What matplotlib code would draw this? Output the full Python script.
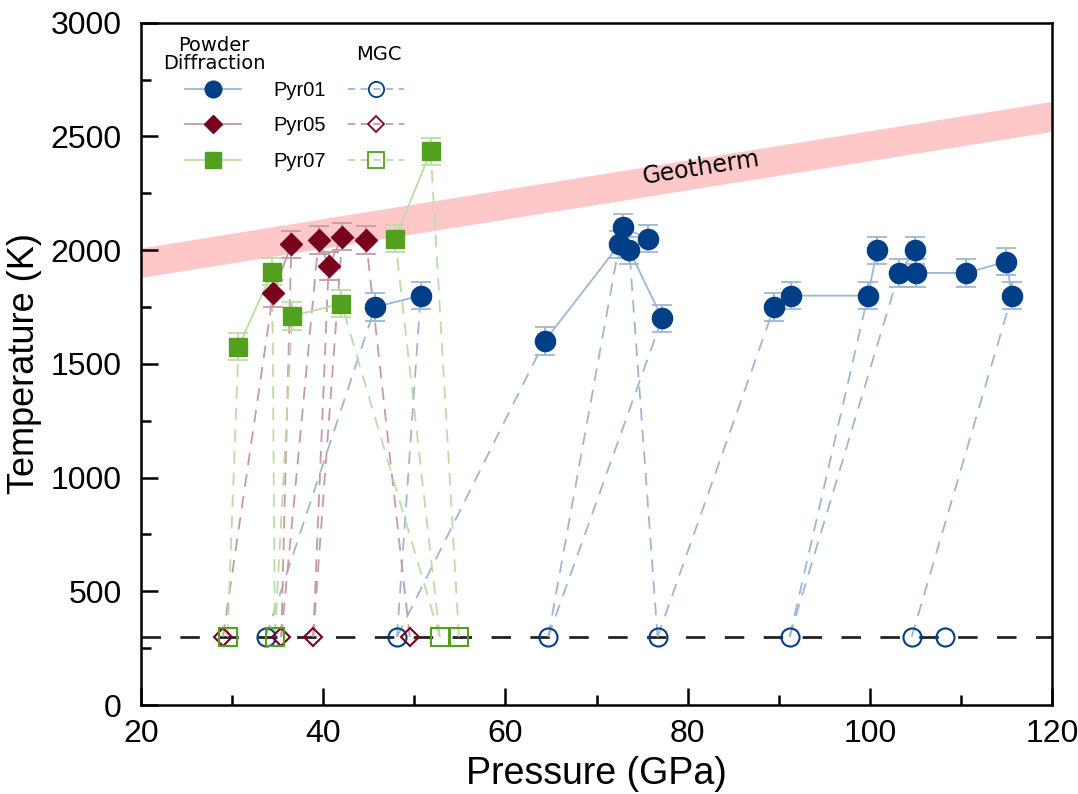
import matplotlib
matplotlib.use("Agg")
import matplotlib.pyplot as plt
from matplotlib.lines import Line2D
from matplotlib.ticker import MultipleLocator

# heated points (powder diffraction), pressure in GPa, temperature in K
P01 = [45.7, 50.7, 64.3, 72.5, 72.9, 75.7, 73.6, 77.2, 89.5, 91.4, 99.8, 100.8,
       103.2, 105.0, 105.1, 110.6, 115.0, 115.6]
T01 = [1750, 1800, 1600, 2025, 2100, 2050, 2000, 1700, 1750, 1800, 1800, 2000,
       1900, 2000, 1900, 1900, 1950, 1800]
E01 = [60] * len(P01)
seg01 = [0, 0, 1, 1, 1, 1, 1, 1, 2, 2, 2, 2, 3, 3, 3, 3, 3, 3]

P05 = [34.5, 36.5, 39.5, 40.6, 42.1, 44.7]
T05 = [1810, 2025, 2045, 1930, 2060, 2045]
E05 = [60] * len(P05)
seg05 = [0, 0, 1, 1, 1, 1]

P07 = [30.7, 34.4, 36.6, 42.0, 47.9, 51.8]
T07 = [1575, 1905, 1710, 1765, 2050, 2435]
E07 = [60] * len(P07)
seg07 = [0, 0, 1, 1, 2, 2]

# MGC (room temperature) pressures
T_room = 300
mgc01 = [33.7, 48.1, 64.7, 76.7, 91.2, 104.6, 108.3]
mgc05 = [29.0, 35.4, 38.9, 49.5]
mgc07 = [29.5, 34.7, 52.8, 54.9]

# dashed links: (mgc index, heated index)
links01 = [(0, 0), (1, 1), (1, 2), (2, 3), (2, 7), (3, 6), (3, 8), (4, 10), (4, 12), (5, 17)]
links05 = [(0, 0), (1, 1), (1, 2), (2, 4), (2, 3), (3, 5)]
links07 = [(0, 0), (1, 1), (1, 2), (2, 3), (2, 4), (3, 5)]

# geotherm band
geo_P = [20, 120]
geo_low = [1880, 2522]
geo_high = [2010, 2654]

blue = "#003f87"
red = "#7a0020"
green = "#52a01e"
blue_l = "#9fb6d3"
red_l = "#c79aa3"
green_l = "#bcdca6"

plt.rcParams["font.family"] = ["Liberation Sans", "DejaVu Sans"]

fig = plt.figure(figsize=(10.78, 7.94), dpi=100)
ax = fig.add_axes([0.1308, 0.112, 0.8451, 0.8594])

ax.fill_between(geo_P, geo_low, geo_high, color="#ffc8c8", lw=0, zorder=0)
ax.text(81.5, 2362, "Geotherm", rotation=9, ha="center", va="center",
        fontsize=17, family="DejaVu Sans", zorder=1)

ax.axhline(T_room, color="#222222", lw=2, dashes=(7, 7), zorder=1)

series = [
    (P01, T01, E01, seg01, mgc01, links01, blue, blue_l, "o", 14.5, 13),
    (P05, T05, E05, seg05, mgc05, links05, red, red_l, "D", 11, 9.5),
    (P07, T07, E07, seg07, mgc07, links07, green, green_l, "s", 13.5, 12.5),
]

for P, T, E, seg, mgc, links, col, col_l, mk, ms, ms_open in series:
    # dashed lines from MGC to heated point
    for i, j in links:
        ax.plot([mgc[i], P[j]], [T_room, T[j]], color=col_l, lw=1.3,
                dashes=(7, 5), zorder=2)
    # solid lines between heated points
    for s in sorted(set(seg)):
        xs = [P[k] for k in range(len(P)) if seg[k] == s]
        ys = [T[k] for k in range(len(P)) if seg[k] == s]
        ax.plot(xs, ys, color=col_l, lw=1.3, zorder=2)
    ax.errorbar(P, T, yerr=E, fmt="none", ecolor=col_l, elinewidth=1.3,
                capsize=7, capthick=1.3, zorder=3)
    ax.plot(P, T, ls="none", marker=mk, ms=ms, color=col, mec=col, zorder=4)
    ax.plot(mgc, [T_room] * len(mgc), ls="none", marker=mk, ms=ms_open,
            mfc="none", mec=col, mew=1.5, zorder=4)

ax.set_xlim(20, 120)
ax.set_ylim(0, 3000)
ax.xaxis.set_major_locator(MultipleLocator(20))
ax.xaxis.set_minor_locator(MultipleLocator(10))
ax.yaxis.set_major_locator(MultipleLocator(500))
ax.yaxis.set_minor_locator(MultipleLocator(250))
ax.tick_params(which="both", direction="in", top=False, right=False,
               width=1.8, labelsize=23)
ax.tick_params(which="major", length=12)
ax.tick_params(which="minor", length=7)
ax.tick_params(axis="y", pad=14)
ax.tick_params(axis="x", pad=10)
for sp in ax.spines.values():
    sp.set_linewidth(1.8)

ax.set_xlabel("Pressure (GPa)", fontsize=27, labelpad=5)
ax.set_ylabel("Temperature (K)", fontsize=26, labelpad=6)

# legend
handles = [
    Line2D([], [], color=blue_l, lw=1.3, marker="o", ms=12, mfc=blue, mec=blue),
    Line2D([], [], color=red_l, lw=1.3, marker="D", ms=9, mfc=red, mec=red),
    Line2D([], [], color=green_l, lw=1.3, marker="s", ms=12, mfc=green, mec=green),
    Line2D([], [], color=blue_l, lw=1.3, dashes=(4, 3), marker="o", ms=11,
           mfc="none", mec=blue, mew=1.3),
    Line2D([], [], color=red_l, lw=1.3, dashes=(4, 3), marker="D", ms=8,
           mfc="none", mec=red, mew=1.3),
    Line2D([], [], color=green_l, lw=1.3, dashes=(4, 3), marker="s", ms=11,
           mfc="none", mec=green, mew=1.3),
]
labels = ["Pyr01", "Pyr05", "Pyr07", "", "", ""]
ax.legend(handles, labels, ncol=2, loc="upper left", bbox_to_anchor=(0.048, 0.915),
          frameon=False, fontsize=14.5, handlelength=2.8, handletextpad=1.6,
          columnspacing=1.1, labelspacing=0.82, borderpad=0, borderaxespad=0)
ax.text(0.080, 0.953, "Powder\nDiffraction", transform=ax.transAxes, ha="center",
        va="center", fontsize=14, family="DejaVu Sans", linespacing=0.95)
ax.text(0.2616, 0.9537, "MGC", transform=ax.transAxes, ha="center",
        va="center", fontsize=14, family="DejaVu Sans")

fig.savefig("out.png", dpi=100)
